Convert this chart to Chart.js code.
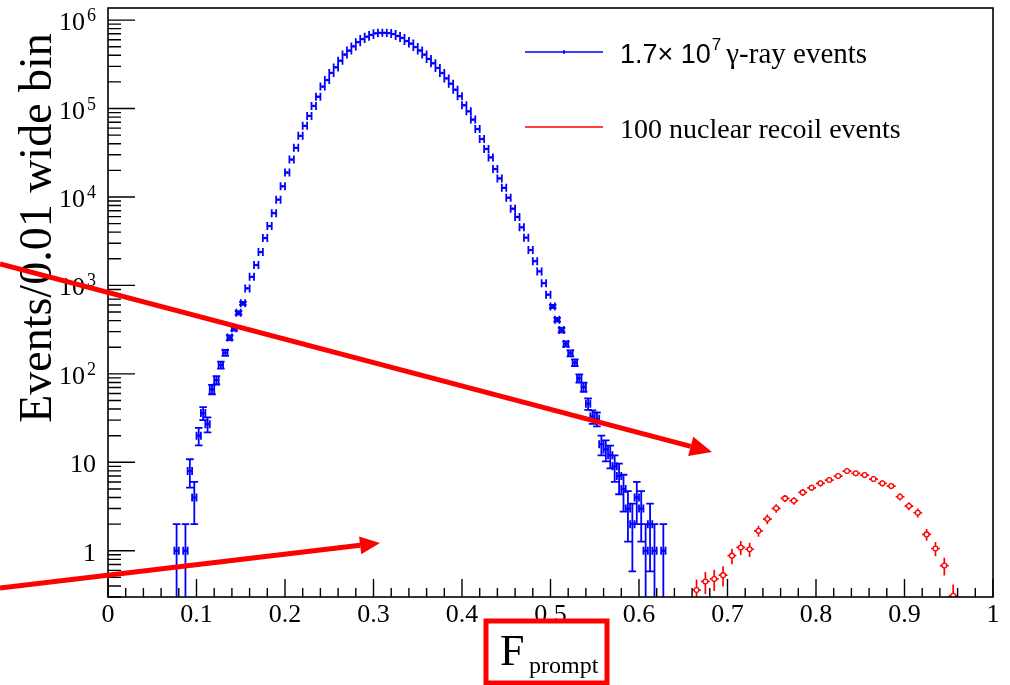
<!DOCTYPE html>
<html>
<head>
<meta charset="utf-8">
<script src="https://cdn.jsdelivr.net/npm/chart.js@4.4.0/dist/chart.umd.min.js"></script>
<style>
html, body { margin: 0; padding: 0; background: #fff; }
</style>
</head>
<body>
<canvas id="fpromptGraph" width="1010" height="685"></canvas>
<script>
// gamma-ray histogram (bin width 0.005), empty bins left out
var gammaBin = 0.005;
var gammaX = [0.0775, 0.0875, 0.0925, 0.0975, 0.1025, 0.1075, 0.1125, 0.1175, 0.1225, 0.1275,
  0.1325, 0.1375, 0.1425, 0.1475, 0.1525, 0.1575, 0.1625, 0.1675, 0.1725, 0.1775,
  0.1825, 0.1875, 0.1925, 0.1975, 0.2025, 0.2075, 0.2125, 0.2175, 0.2225, 0.2275,
  0.2325, 0.2375, 0.2425, 0.2475, 0.2525, 0.2575, 0.2625, 0.2675, 0.2725, 0.2775,
  0.2825, 0.2875, 0.2925, 0.2975, 0.3025, 0.3075, 0.3125, 0.3175, 0.3225, 0.3275,
  0.3325, 0.3375, 0.3425, 0.3475, 0.3525, 0.3575, 0.3625, 0.3675, 0.3725, 0.3775,
  0.3825, 0.3875, 0.3925, 0.3975, 0.4025, 0.4075, 0.4125, 0.4175, 0.4225, 0.4275,
  0.4325, 0.4375, 0.4425, 0.4475, 0.4525, 0.4575, 0.4625, 0.4675, 0.4725, 0.4775,
  0.4825, 0.4875, 0.4925, 0.4975, 0.5025, 0.5075, 0.5125, 0.5175, 0.5225, 0.5275,
  0.5325, 0.5375, 0.5425, 0.5475, 0.5525, 0.5575, 0.5625, 0.5675, 0.5725, 0.5775,
  0.5825, 0.5875, 0.5925, 0.5975, 0.6025, 0.6075, 0.6125, 0.6175, 0.6275];
var gammaN = [1, 1, 8, 4, 20, 36, 27, 67, 85, 126,
  173, 257, 327, 490, 627, 926, 1250, 1700, 2380, 3430,
  4690, 6560, 9330, 13200, 18900, 26500, 36000, 49100, 63800, 82600,
  107000, 136000, 177000, 210000, 253000, 292000, 347000, 408000, 452000, 504000,
  563000, 610000, 649000, 680000, 709000, 718000, 718000, 713000, 695000, 661000,
  628000, 579000, 542000, 495000, 453000, 407000, 363000, 325000, 288000, 252000,
  219000, 191000, 163000, 138000, 109000, 93000, 75000, 58600, 45200, 34900,
  28000, 20700, 16200, 12700, 9800, 7360, 5940, 4540, 3470, 2510,
  1880, 1440, 1060, 786, 578, 409, 313, 218, 171, 134,
  89, 71, 46, 33, 31, 16, 14, 12, 9, 7,
  5, 3, 2, 4, 3, 1, 2, 1, 1];

// nuclear recoil histogram (bin width 0.01), weighted events
var nrBin = 0.01;
var nrWeight = 0.035;
var nrX = [0.665, 0.675, 0.685, 0.695, 0.705, 0.715, 0.725, 0.735, 0.745, 0.755,
  0.765, 0.775, 0.785, 0.795, 0.805, 0.815, 0.825, 0.835, 0.845, 0.855,
  0.865, 0.875, 0.885, 0.895, 0.905, 0.915, 0.925, 0.935, 0.945, 0.955];
var nrN = [0.36, 0.45, 0.48, 0.53, 0.88, 1.09, 1.04, 1.68, 2.28, 3.02,
  3.91, 3.68, 4.57, 5.15, 5.78, 6.30, 6.99, 7.96, 7.50, 7.17,
  6.47, 5.78, 5.39, 4.08, 3.20, 2.69, 1.53, 1.06, 0.68, 0.31];

var xTicks = [0, 0.1, 0.2, 0.3, 0.4, 0.5, 0.6, 0.7, 0.8, 0.9, 1];
var xTickLabels = ['0', '0.1', '0.2', '0.3', '0.4', '0.5', '0.6', '0.7', '0.8', '0.9', '1'];
var yTicks = [1, 10, 100, 1e3, 1e4, 1e5, 1e6];
var yTickBase = ['1', '10', '10', '10', '10', '10', '10'];
var yTickExp = ['', '', '2', '3', '4', '5', '6'];

var serif = '"Liberation Serif", "Times New Roman", serif';
var sans = '"Liberation Sans", Arial, sans-serif';

// error bars, drawn under the markers
var errorBars = {
  id: 'errorBars',
  beforeDatasetsDraw: function (chart) {
    var c = chart.ctx, xs = chart.scales.x, ys = chart.scales.y, a = chart.chartArea;
    c.save();
    c.beginPath();
    c.rect(a.left, a.top, a.right - a.left, a.bottom - a.top);
    c.clip();

    c.strokeStyle = '#0000ff';
    c.lineWidth = 1.8;
    c.beginPath();
    for (var i = 0; i < gammaX.length; i++) {
      var n = gammaN[i], e = Math.sqrt(n);
      var px = xs.getPixelForValue(gammaX[i]), py = ys.getPixelForValue(n);
      var x0 = xs.getPixelForValue(gammaX[i] - gammaBin / 2);
      var x1 = xs.getPixelForValue(gammaX[i] + gammaBin / 2);
      var yHi = ys.getPixelForValue(n + e);
      var yLo = (n - e) > 0 ? ys.getPixelForValue(n - e) : a.bottom + 5;
      c.moveTo(x0, py); c.lineTo(x1, py);
      c.moveTo(x0, py - 4); c.lineTo(x0, py + 4);
      c.moveTo(x1, py - 4); c.lineTo(x1, py + 4);
      if (py - yHi > 1.5) {
        c.moveTo(px, yHi); c.lineTo(px, yLo);
        c.moveTo(px - 3.8, yHi); c.lineTo(px + 3.8, yHi);
        c.moveTo(px - 3.8, yLo); c.lineTo(px + 3.8, yLo);
      }
    }
    c.stroke();

    c.strokeStyle = '#ff0000';
    c.lineWidth = 1.7;
    c.beginPath();
    for (var j = 0; j < nrX.length; j++) {
      var v = nrN[j], err = Math.sqrt(v * nrWeight);
      var qx = xs.getPixelForValue(nrX[j]), qy = ys.getPixelForValue(v);
      c.moveTo(xs.getPixelForValue(nrX[j] - nrBin / 2), qy);
      c.lineTo(xs.getPixelForValue(nrX[j] + nrBin / 2), qy);
      c.moveTo(qx, ys.getPixelForValue(v + err));
      c.lineTo(qx, (v - err) > 0 ? ys.getPixelForValue(v - err) : a.bottom + 5);
    }
    c.stroke();
    c.restore();
  }
};

function arrow(c, x0, y0, x1, y1, w, hl, hw) {
  var ang = Math.atan2(y1 - y0, x1 - x0);
  var bx = x1 - hl * Math.cos(ang), by = y1 - hl * Math.sin(ang);
  c.lineWidth = w;
  c.beginPath(); c.moveTo(x0, y0); c.lineTo(bx, by); c.stroke();
  c.beginPath();
  c.moveTo(x1, y1);
  c.lineTo(bx + hw * Math.sin(ang), by - hw * Math.cos(ang));
  c.lineTo(bx - hw * Math.sin(ang), by + hw * Math.cos(ang));
  c.closePath(); c.fill();
}

// ROOT-like frame, inner ticks, labels, legend and the red marks on top
var rootFrame = {
  id: 'rootFrame',
  afterDraw: function (chart) {
    var c = chart.ctx, xs = chart.scales.x, ys = chart.scales.y, a = chart.chartArea;
    c.save();
    c.strokeStyle = '#000'; c.fillStyle = '#000';
    c.lineWidth = 1.6;
    c.strokeRect(a.left, a.top, a.right - a.left, a.bottom - a.top);

    c.lineWidth = 1.4;
    c.beginPath();
    for (var i = 0; i < xTicks.length; i++) {
      var px = xs.getPixelForValue(xTicks[i]);
      c.moveTo(px, a.bottom); c.lineTo(px, a.bottom - 18);
      if (i < xTicks.length - 1) {
        for (var k = 1; k < 5; k++) {
          var mx = xs.getPixelForValue(xTicks[i] + (xTicks[i + 1] - xTicks[i]) * k / 5);
          c.moveTo(mx, a.bottom); c.lineTo(mx, a.bottom - 9);
        }
      }
    }
    for (var d = -1; d <= 6; d++) {
      for (var m = 1; m <= 9; m++) {
        var val = m * Math.pow(10, d);
        if (val < ys.min || val > ys.max) continue;
        var py = ys.getPixelForValue(val);
        c.moveTo(a.left, py); c.lineTo(a.left + (m === 1 ? 27 : 13), py);
      }
    }
    c.stroke();

    c.font = '26px ' + serif;
    c.textAlign = 'center'; c.textBaseline = 'alphabetic';
    for (var t = 0; t < xTicks.length; t++) {
      c.fillText(xTickLabels[t], xs.getPixelForValue(xTicks[t]), 622);
    }
    for (var s = 0; s < yTicks.length; s++) {
      var ty = ys.getPixelForValue(yTicks[s]);
      var right = 96;
      c.textAlign = 'right';
      if (yTickExp[s]) {
        c.font = '18px ' + serif;
        c.fillText(yTickExp[s], right, ty + 1);
        right -= c.measureText(yTickExp[s]).width + 2;
      }
      c.font = '26px ' + serif;
      c.fillText(yTickBase[s], right, ty + 10);
    }

    // axis titles
    c.save();
    c.translate(51, 228);
    c.rotate(-Math.PI / 2);
    c.textAlign = 'center';
    c.font = '46px ' + serif;
    c.fillText('Events/0.01 wide bin', 0, 0);
    c.restore();
    c.textAlign = 'left';
    c.font = '44px ' + serif;
    c.fillText('F', 500, 665);
    c.font = '24px ' + serif;
    c.fillText('prompt', 529, 673);

    // legend
    c.lineWidth = 1.5;
    c.strokeStyle = '#0000ff';
    c.beginPath(); c.moveTo(525, 52); c.lineTo(603, 52);
    c.moveTo(564, 50); c.lineTo(564, 54); c.stroke();
    c.strokeStyle = '#ff0000';
    c.beginPath(); c.moveTo(525, 127); c.lineTo(603, 127); c.stroke();
    c.fillStyle = '#000';
    var lx = 620;
    c.font = '27px ' + sans;
    c.fillText('1.7\u00d7 10', lx, 63);
    lx += c.measureText('1.7\u00d7 10').width + 1;
    c.font = '17px ' + sans;
    c.fillText('7', lx, 50);
    lx += c.measureText('7').width + 5;
    c.font = '29px ' + serif;
    c.fillText('\u03b3-ray events', lx, 63);
    c.font = '28px ' + serif;
    c.fillText('100 nuclear recoil events', 620, 138);

    // red annotations
    c.strokeStyle = '#ff0000'; c.fillStyle = '#ff0000';
    arrow(c, 0, 264, 712, 452, 5, 22, 10);
    arrow(c, 0, 588, 380, 543, 5, 20, 9);
    c.lineWidth = 5;
    c.strokeRect(486, 621, 121, 62);
    c.restore();
  }
};

var ctx = document.getElementById('fpromptGraph').getContext('2d');
var myChart = new Chart(ctx, {
  type: 'scatter',
  data: {
    datasets: [{
      label: '1.7\u00d7 10^7 \u03b3-ray events',
      data: gammaX.map(function (x, i) { return { x: x, y: gammaN[i] }; }),
      pointStyle: 'rect',
      pointRadius: 1,
      borderWidth: 1,
      borderColor: '#0000ff',
      backgroundColor: '#0000ff'
    }, {
      label: '100 nuclear recoil events',
      data: nrX.map(function (x, i) { return { x: x, y: nrN[i] }; }),
      pointStyle: 'circle',
      pointRadius: 2.4,
      borderWidth: 1.3,
      borderColor: '#ff0000',
      backgroundColor: '#ffffff'
    }]
  },
  options: {
    responsive: false,
    animation: false,
    layout: { padding: { left: 108, right: 17, top: 8, bottom: 88 } },
    plugins: { legend: { display: false }, tooltip: { enabled: false } },
    scales: {
      x: { type: 'linear', min: 0, max: 1, display: false },
      y: { type: 'logarithmic', min: 0.3, max: 1.37e6, display: false }
    }
  },
  plugins: [errorBars, rootFrame]
});
</script>
</body>
</html>
